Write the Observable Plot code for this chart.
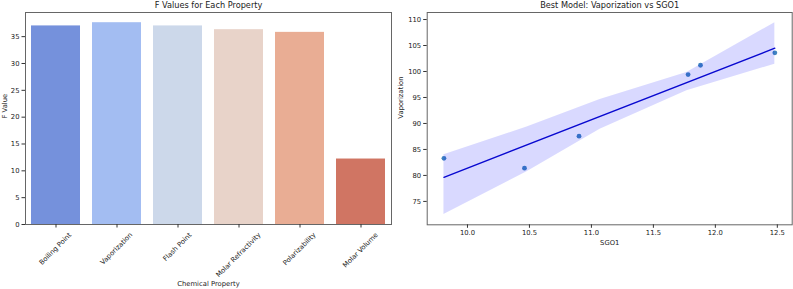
<!DOCTYPE html>
<html><head><meta charset="utf-8">
<script src="https://cdn.jsdelivr.net/npm/d3@7"></script>
<script src="https://cdn.jsdelivr.net/npm/@observablehq/plot@0.6"></script>
<style>
body{margin:0;background:#fff;}
#wrap{display:flex;width:793px;height:289px;overflow:hidden;}
svg{font-family:"DejaVu Sans",sans-serif;display:block;}
</style></head><body><div id="wrap"></div>
<script>
// ---- Left chart data ----
const properties = ["Boiling Point","Vaporization","Flash Point","Molar Refractivity","Polarizability","Molar Volume"];
const fValues = [37.0, 37.6, 37.0, 36.3, 35.8, 12.2];
const barColors = ["#7591dc","#a3bdf2","#ccd8ea","#e8d3c9","#e9ad94","#d07563"];
const fTicks = [0,5,10,15,20,25,30,35];

// ---- Right chart data ----
const sgo1 = [9.81, 10.46, 10.90, 11.78, 11.88, 12.48];
const vaporization = [83.3, 81.4, 87.55, 99.4, 101.2, 103.6];
const bandX = [9.81, 10.48, 11.07, 11.77, 12.48];
const bandUpper = [84.0, 89.3, 94.6, 99.8, 109.4];
const bandLower = [72.5, 80.7, 88.9, 96.3, 101.4];
const sgoTicks = [10.0, 10.5, 11.0, 11.5, 12.0, 12.5];
const vapTicks = [75, 80, 85, 90, 95, 100, 105, 110];

const FS = 6.8, TFS = 8.2, INK = "#222", SPINE = "#666";
const wrap = document.getElementById("wrap");

const bars = properties.map((p, i) => ({property: p, f: fValues[i]}));
const left = Plot.plot({
  width: 396, height: 289,
  marginTop: 12, marginBottom: 65, marginLeft: 25, marginRight: 5,
  style: {fontSize: FS + "px", fontFamily: "DejaVu Sans, sans-serif", color: INK, background: "#fff"},
  x: {domain: properties, paddingInner: 0.2, paddingOuter: 0.1, label: null},
  y: {domain: [0, 39.5], label: null},
  color: {domain: properties, range: barColors},
  marks: [
    Plot.barY(bars, {x: "property", y: "f", fill: "property"}),
    Plot.frame({stroke: SPINE, strokeWidth: 1}),
    Plot.axisY({ticks: fTicks, tickSize: 3.5, tickPadding: 2.5, fontSize: FS, label: null, stroke: "#333"}),
    Plot.axisX({tickSize: 3.5, tickRotate: -45, fontSize: FS, label: null, stroke: "#333"}),
    Plot.text(["F Values for Each Property"], {frameAnchor: "top", dy: -6.7, lineAnchor: "middle", fontSize: TFS, fill: INK}),
    Plot.text(["F Value"], {frameAnchor: "left", dx: -20.5, rotate: -90, lineAnchor: "middle", fontSize: FS, fill: INK}),
    Plot.text(["Chemical Property"], {frameAnchor: "bottom", dy: 59, lineAnchor: "middle", fontSize: FS, fill: INK})
  ]
});
wrap.appendChild(left);

// Center rotated tick labels under their ticks (matplotlib-style rotation=45, ha=center)
const xs = left.scale("x");
const svgR = left.getBoundingClientRect();
left.querySelectorAll('g[aria-label="x-axis tick label"] text').forEach((t, i) => {
  const cx = xs.apply(properties[i]) + xs.bandwidth / 2;
  const r = t.getBoundingClientRect();
  const dx = cx - (r.left + r.width / 2 - svgR.left);
  const dy = 231 - (r.top - svgR.top);
  t.setAttribute("transform", `translate(${dx},${dy}) ` + (t.getAttribute("transform") || ""));
});

const pts = sgo1.map((x, i) => ({x, y: vaporization[i]}));
const band = bandX.map((x, i) => ({x, lo: bandLower[i], hi: bandUpper[i]}));
const right = Plot.plot({
  width: 397, height: 289,
  marginTop: 12, marginBottom: 64.7, marginLeft: 30.7, marginRight: 1.3,
  style: {fontSize: FS + "px", fontFamily: "DejaVu Sans, sans-serif", color: INK, background: "#fff"},
  x: {domain: [9.675, 12.62], label: null},
  y: {domain: [70.5, 111.35], label: null},
  marks: [
    Plot.dot(pts, {x: "x", y: "y", r: 2.4, fill: "#1f6fb4", fillOpacity: 0.85, stroke: null}),
    Plot.areaY(band, {x: "x", y1: "lo", y2: "hi", fill: "blue", fillOpacity: 0.15}),
    Plot.linearRegressionY(pts, {x: "x", y: "y", ci: 0, stroke: "#0808d0", strokeWidth: 1.4}),
    Plot.frame({stroke: SPINE, strokeWidth: 1}),
    Plot.axisY({ticks: vapTicks, tickSize: 3.5, tickPadding: 2.5, fontSize: FS, label: null, stroke: "#333"}),
    Plot.axisX({ticks: sgoTicks, tickFormat: d3.format(".1f"), tickSize: 3.5, tickPadding: 2, fontSize: FS, label: null, stroke: "#333"}),
    Plot.text(["Best Model: Vaporization vs SGO1"], {frameAnchor: "top", dy: -6.7, lineAnchor: "middle", fontSize: TFS, fill: INK}),
    Plot.text(["Vaporization"], {frameAnchor: "left", dx: -26.2, rotate: -90, lineAnchor: "middle", fontSize: FS, fill: INK}),
    Plot.text(["SGO1"], {frameAnchor: "bottom", dy: 17.7, lineAnchor: "middle", fontSize: FS, fill: INK})
  ]
});
wrap.appendChild(right);
</script>
</body></html>
